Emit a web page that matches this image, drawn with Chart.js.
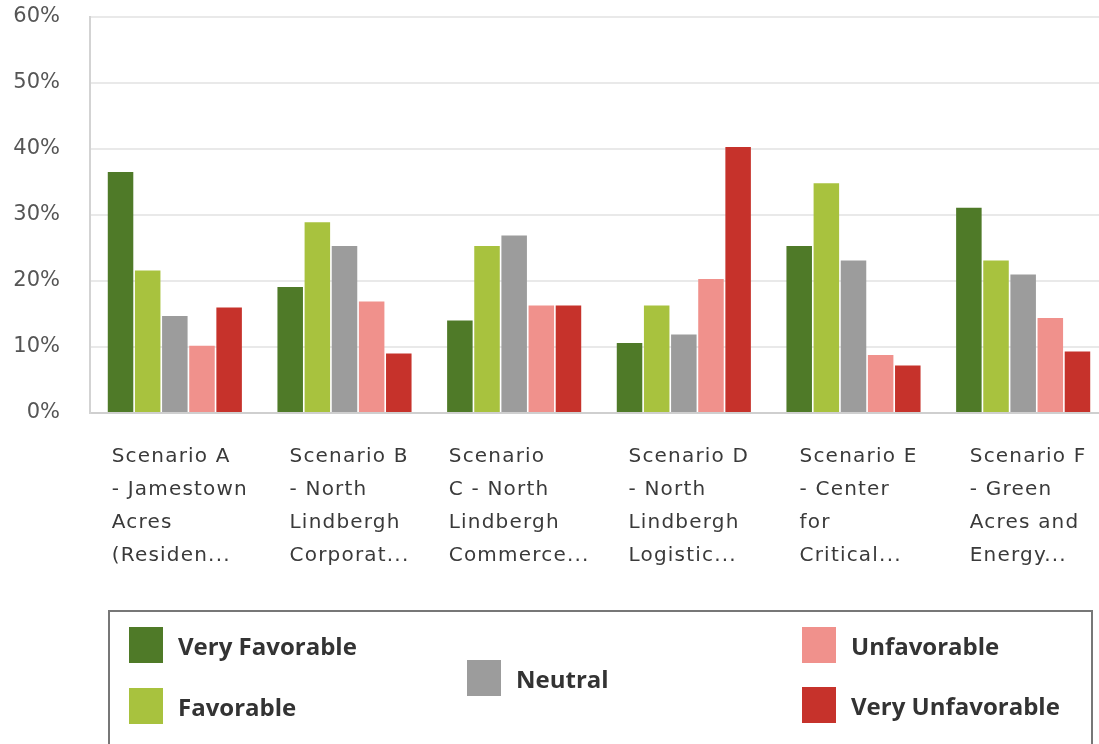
<!DOCTYPE html>
<html>
<head>
<meta charset="utf-8">
<script src="https://cdn.jsdelivr.net/npm/chart.js@4.4.1/dist/chart.umd.min.js"></script>
<style>
  html, body { margin: 0; padding: 0; background: #fff; overflow: hidden; }
  #wrap { position: relative; width: 1108px; height: 744px; }
  #legend {
    position: absolute; left: 108px; top: 610px; width: 985px; height: 200px;
    border: 2px solid #777; box-sizing: border-box;
    font-family: "Open Sans", sans-serif; font-weight: 700; font-size: 24px; color: #333;
  }
  .item { position: absolute; display: flex; align-items: center; }
  .swatch { width: 34px; height: 36px; margin-right: 15px; }
</style>
</head>
<body>
<div id="wrap">
  <canvas id="chart"></canvas>
  <div id="legend"></div>
</div>
<script>
// ======================
// Данные графика
// ======================

const categories = [
    ['Scenario A', '- Jamestown', 'Acres', '(Residen...'],
    ['Scenario B', '- North', 'Lindbergh', 'Corporat...'],
    ['Scenario', 'C - North', 'Lindbergh', 'Commerce...'],
    ['Scenario D', '- North', 'Lindbergh', 'Logistic...'],
    ['Scenario E', '- Center', 'for', 'Critical...'],
    ['Scenario F', '- Green', 'Acres and', 'Energy...']
];

const seriesNames = ['Very Favorable', 'Favorable', 'Neutral', 'Unfavorable', 'Very Unfavorable'];
const seriesColors = ['#4f7a28', '#a8c23e', '#9c9c9c', '#f0918c', '#c6322b'];

const veryFavorable   = [36.5, 19.1, 14.0, 10.6, 25.3, 31.1];
const favorable       = [21.6, 28.9, 25.3, 16.3, 34.8, 23.1];
const neutral         = [14.7, 25.3, 26.9, 11.9, 23.1, 21.0];
const unfavorable     = [10.2, 16.9, 16.3, 20.3,  8.8, 14.4];
const veryUnfavorable = [16.0,  9.0, 16.3, 40.3,  7.2,  9.3];

const yTicks = [0, 10, 20, 30, 40, 50, 60];

const seriesValues = [veryFavorable, favorable, neutral, unfavorable, veryUnfavorable];

// Расположение элементов легенды (3 колонки)
const legendSlots = [
    { left: 19, top: 15 },
    { left: 19, top: 76 },
    { left: 357, top: 48 },
    { left: 692, top: 15 },
    { left: 692, top: 75 }
];

// ======================
// Подписи оси X (по левому краю внутри блока)
// ======================

const xLabelPlugin = {
    id: 'xLabels',
    afterDraw(chart) {
        const ctx = chart.ctx;
        const xScale = chart.scales.x;
        const bottom = chart.chartArea.bottom;
        ctx.save();
        ctx.font = '20px "DejaVu Sans"';
        ctx.letterSpacing = '1.2px';
        ctx.fillStyle = '#3a3a3a';
        ctx.textAlign = 'left';
        ctx.textBaseline = 'middle';
        categories.forEach((lines, i) => {
            const cx = xScale.getPixelForValue(i);
            const maxW = Math.max(...lines.map(l => ctx.measureText(l).width));
            const startX = cx - maxW / 2 + 5;
            lines.forEach((line, k) => {
                ctx.fillText(line, startX, bottom + 44 + k * 33);
            });
        });
        ctx.restore();
    }
};

// ======================
// График
// ======================

const ctx = document.getElementById('chart');

new Chart(ctx.getContext('2d'), {
    type: 'bar',
    data: {
        labels: categories,
        datasets: seriesNames.map((name, i) => ({
            label: name,
            data: seriesValues[i],
            backgroundColor: seriesColors[i],
            borderWidth: 0,
            categoryPercentage: 0.8,
            barPercentage: 0.94
        }))
    },
    options: {
        responsive: true,
        maintainAspectRatio: false,
        animation: false,
        layout: {
            padding: { top: 17, right: 0, bottom: 331, left: 0 }
        },
        plugins: {
            legend: { display: false },
            tooltip: { enabled: false }
        },
        scales: {
            x: {
                grid: { display: false },
                border: { display: true, color: '#cfcfcf', width: 2 },
                ticks: { display: false },
                afterFit(scale) { scale.height = 0; }
            },
            y: {
                min: 0,
                max: 60,
                afterFit(scale) {
                    scale.width = 90;
                    scale.paddingTop = 0;
                    scale.paddingBottom = 0;
                },
                afterBuildTicks(scale) { scale.ticks = yTicks.map(v => ({ value: v })); },
                grid: { color: '#e9e9e9', lineWidth: 2, drawTicks: false },
                border: { display: true, color: '#d3d3d3', width: 2 },
                ticks: {
                    padding: 30,
                    color: '#555',
                    font: { family: 'DejaVu Sans', size: 21 },
                    callback: v => v + '%'
                }
            }
        }
    },
    plugins: [xLabelPlugin]
});

// ======================
// Легенда
// ======================

const legend = document.getElementById('legend');
legend.innerHTML = seriesNames.map((name, i) => `
    <div class="item" style="left:${legendSlots[i].left}px;top:${legendSlots[i].top}px">
        <div class="swatch" style="background:${seriesColors[i]}"></div>
        <span>${name}</span>
    </div>
`).join('');
</script>
</body>
</html>
